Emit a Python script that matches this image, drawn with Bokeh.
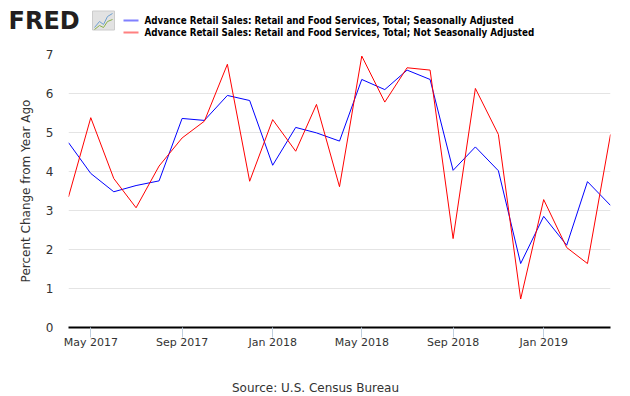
from datetime import datetime
from bokeh.plotting import figure
from bokeh.layouts import column
from bokeh.models import Range1d, FixedTicker, DatetimeTickFormatter
from bokeh.core.properties import value
from bokeh.embed import file_html
from bokeh.resources import INLINE

months = ["2017-04", "2017-05", "2017-06", "2017-07", "2017-08", "2017-09", "2017-10",
          "2017-11", "2017-12", "2018-01", "2018-02", "2018-03", "2018-04", "2018-05",
          "2018-06", "2018-07", "2018-08", "2018-09", "2018-10", "2018-11", "2018-12",
          "2019-01", "2019-02", "2019-03", "2019-04"]
sa = [4.74, 3.95, 3.48, 3.64, 3.76, 5.36, 5.31, 5.95, 5.82, 4.16, 5.13, 4.99, 4.78,
      6.36, 6.10, 6.60, 6.36, 4.03, 4.63, 4.02, 1.64, 2.85, 2.11, 3.74, 3.13]
nsa = [3.35, 5.38, 3.82, 3.07, 4.14, 4.86, 5.29, 6.75, 3.75, 5.33, 4.52, 5.72, 3.61,
       6.96, 5.78, 6.66, 6.60, 2.28, 6.13, 4.95, 0.73, 3.28, 2.05, 1.64, 4.95]
series_names = ["Advance Retail Sales: Retail and Food Services, Total; Seasonally Adjusted",
                "Advance Retail Sales: Retail and Food Services, Total; Not Seasonally Adjusted"]
series_colors = ["#0000ff", "#ff0000"]
legend_colors = ["#8080ff", "#ff8080"]
tick_months = ["2017-05", "2017-09", "2018-01", "2018-05", "2018-09", "2019-01"]
y_ticks = [0, 1, 2, 3, 4, 5, 6, 7]
source_text = "Source: U.S. Census Bureau"

dates = [datetime.strptime(m, "%Y-%m") for m in months]
tick_dates = [datetime.strptime(m, "%Y-%m") for m in tick_months]


def ms(d):
    return (d - datetime(1970, 1, 1)).total_seconds() * 1000.0


W = 630
HH = 40          # header height
FT = 26          # footer height
MH = 396 - HH - FT
L, R = 68, 20
T = 54 - HH
B = MH - T - (327 - 54)


def blank(h):
    f = figure(width=W, height=h, output_backend="svg", toolbar_location=None,
               x_range=Range1d(0, W), y_range=Range1d(h, 0),
               min_border=0, min_border_left=0, min_border_right=0,
               min_border_top=0, min_border_bottom=0)
    f.axis.visible = False
    f.grid.visible = False
    f.outline_line_color = None
    f.frame_align = False
    return f


# header: logo + legend
hdr = blank(HH)
hdr.text(x=[8], y=[20], text=["FRED"], text_font=value("DejaVu Sans"),
         text_font_style="bold", text_font_size="24px", text_color="#231f20",
         text_baseline="middle")
hdr.rect(x=[103], y=[20], width=22, height=19, fill_color="#e2e2e2",
         line_color="#cccccc")
hdr.line(x=[94, 99, 103, 107, 112], y=[27, 21, 24, 16, 13], line_color="#6fa0d0", line_width=1)
hdr.line(x=[94, 99, 103, 107, 112], y=[29, 25, 27, 21, 19], line_color="#8ab04a", line_width=1)
for i, (name, col) in enumerate(zip(series_names, legend_colors)):
    yy = 20 + 12 * i
    hdr.line(x=[123, 138], y=[yy, yy], line_color=col, line_width=2)
    hdr.text(x=[144], y=[yy], text=[name], text_font=value("DejaVu Sans Condensed"),
             text_font_style="bold", text_font_size="9.75px", text_color="black",
             text_baseline="middle")

# main chart
p = figure(width=W, height=MH, x_axis_type="datetime", output_backend="svg",
           toolbar_location=None, min_border_left=L, min_border_right=R,
           min_border_top=T, min_border_bottom=B,
           x_range=Range1d(ms(dates[0]), ms(dates[-1])), y_range=Range1d(0, 7))
p.outline_line_color = None
p.frame_align = False

for vals, col in zip([sa, nsa], series_colors):
    p.line(dates, vals, line_color=col, line_width=1)

p.xaxis.ticker = FixedTicker(ticks=[ms(d) for d in tick_dates])
p.xaxis.formatter = DatetimeTickFormatter(months="%b %Y", days="%b %Y", years="%b %Y")
p.xaxis.axis_line_color = "black"
p.xaxis.axis_line_width = 2
p.xaxis.major_tick_line_color = "#c0d0e0"
p.xaxis.major_tick_in = 0
p.xaxis.major_tick_out = 10
p.xaxis.minor_tick_line_color = None
p.xaxis.major_label_text_font = "DejaVu Sans"
p.xaxis.major_label_text_font_size = "11px"
p.xaxis.major_label_text_color = "#333333"
p.xaxis.major_label_standoff = -2
p.xgrid.grid_line_color = None

p.yaxis.ticker = FixedTicker(ticks=y_ticks)
p.yaxis.axis_line_color = None
p.yaxis.major_tick_line_color = None
p.yaxis.minor_tick_line_color = None
p.yaxis.major_tick_in = 0
p.yaxis.major_tick_out = 0
p.yaxis.major_label_text_font = "DejaVu Sans"
p.yaxis.major_label_text_font_size = "12px"
p.yaxis.major_label_text_color = "#333333"
p.yaxis.major_label_standoff = 15
p.yaxis.axis_label = "Percent Change from Year Ago"
p.yaxis.axis_label_text_font = "DejaVu Sans"
p.yaxis.axis_label_text_font_size = "12px"
p.yaxis.axis_label_text_font_style = "normal"
p.yaxis.axis_label_text_color = "#333333"
p.yaxis.axis_label_standoff = 10
p.ygrid.grid_line_color = "#e4e4e4"

# footer
ftr = blank(FT)
ftr.text(x=[W / 2], y=[FT / 2 + 4], text=[source_text], text_font=value("DejaVu Sans"),
         text_font_size="12px", text_color="#333333", text_align="center",
         text_baseline="middle")

layout = column(hdr, p, ftr, spacing=0)
open("out.html", "w").write(file_html(layout, INLINE))
